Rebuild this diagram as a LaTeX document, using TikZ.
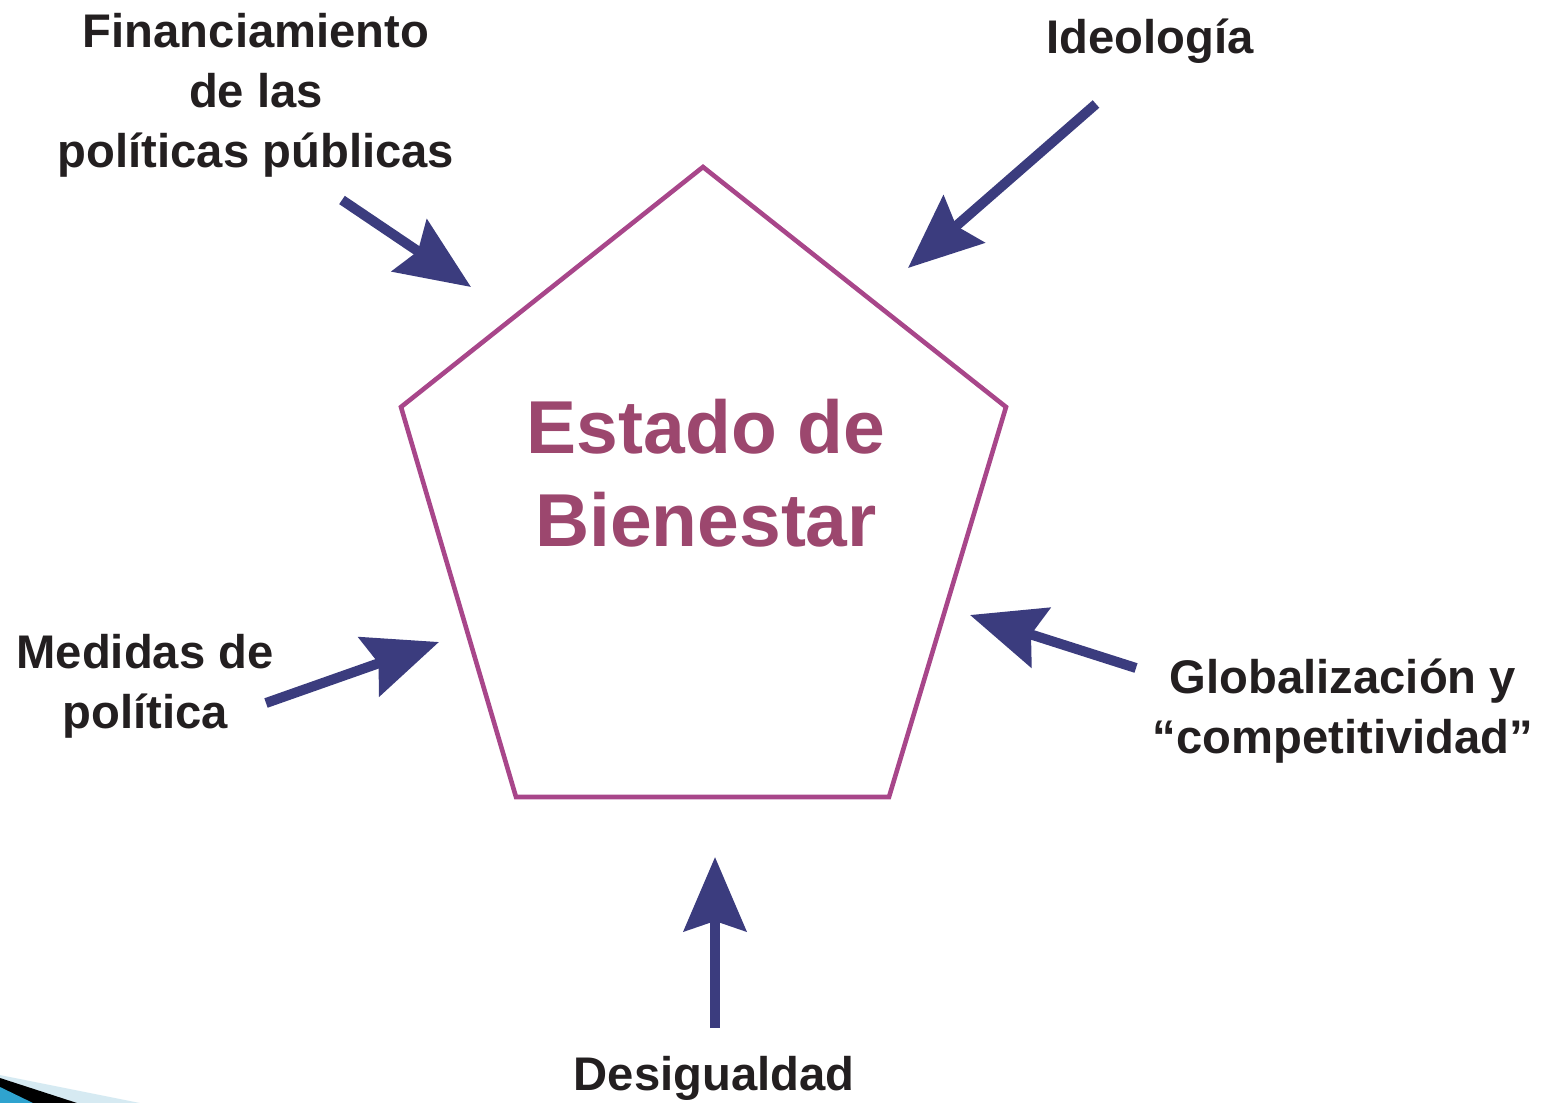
\documentclass[tikz,border=0pt]{standalone}
\usepackage{fontspec}
\setmainfont{Liberation Sans}
\usetikzlibrary{arrows.meta}
\definecolor{arrowblue}{HTML}{3B3C7E}
\definecolor{pentline}{HTML}{A8468A}
\definecolor{titlecol}{HTML}{9C476E}
\definecolor{labelcol}{HTML}{231F20}
\definecolor{swlight}{HTML}{D6EAF2}
\definecolor{swcyan}{HTML}{2FA3CF}
\tikzset{
  label text/.style={text=labelcol, align=center, font=\bfseries\fontsize{23.6}{30}\selectfont, inner sep=0pt},
  title text/.style={text=titlecol, align=center, font=\bfseries\fontsize{37.5}{46.5}\selectfont, inner sep=0pt},
  bigarrow/.style={draw=arrowblue, line width=5pt, -{Stealth[length=37pt, width=31pt, inset=5pt]}},
  pent/.style={draw=pentline, line width=2.3pt, line join=miter},
}
\begin{document}
\begin{tikzpicture}[x=0.5pt, y=-0.5pt]
\useasboundingbox (0,0) rectangle (1548,1103);
% corner swoosh
\fill[swlight] (0,1075) -- (140,1103) -- (0,1103) -- cycle;
\fill[black] (0,1078) -- (77,1103) -- (0,1103) -- cycle;
\fill[swcyan] (0,1087) -- (33,1103) -- (0,1103) -- cycle;
% pentagon
\coordinate (pT) at (703,167);
\coordinate (pR) at (1006,407);
\coordinate (pBR) at (889,797);
\coordinate (pBL) at (516,797);
\coordinate (pL) at (401,407);
\draw[pent] (pT) -- (pR) -- (pBR) -- (pBL) -- (pL) -- cycle;
% title
\node[title text] (title) at (706,473) {Estado de\\Bienestar};
% labels
\node[label text] (fin) at (256,95) {Financiamiento\\de las\\políticas públicas};
\node[label text] (ideo) at (1150,41) {Ideología};
\node[label text] (glob) at (1343,711) {Globalización y\\“competitividad”};
\node[label text] (desi) at (714,1078) {Desigualdad};
\node[label text] (medi) at (145,686) {Medidas de\\política};
% arrow ends
\coordinate (finS) at (342,200);
\coordinate (finE) at (471,287);
\coordinate (ideoS) at (1096,104);
\coordinate (ideoE) at (908,268);
\coordinate (globS) at (1136,668);
\coordinate (globE) at (970,615);
\coordinate (desiS) at (715,1028);
\coordinate (desiE) at (715,857);
\coordinate (mediS) at (266,703);
\coordinate (mediE) at (439,642);
\draw[bigarrow] (finS) -- (finE);
\draw[bigarrow] (ideoS) -- (ideoE);
\draw[bigarrow] (globS) -- (globE);
\draw[bigarrow] (desiS) -- (desiE);
\draw[bigarrow] (mediS) -- (mediE);
\end{tikzpicture}
\end{document}
